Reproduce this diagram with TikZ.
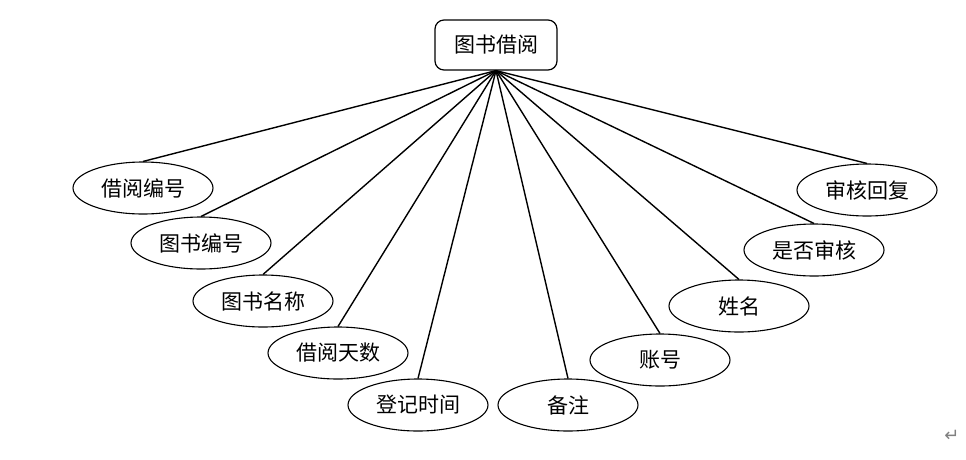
\documentclass[tikz,border=0pt]{standalone}
\usepackage{fontspec}
\newfontfamily\cjk{Noto Sans CJK SC}
\newfontfamily\symfont{DejaVu Sans}
\usetikzlibrary{shapes.geometric}
\begin{document}
\begin{tikzpicture}[x=1pt,y=-1pt,
  entity/.style={draw,rounded corners=9pt,line width=1.2pt,minimum width=122pt,minimum height=50pt,inner sep=0pt,font=\cjk\fontsize{21}{25}\selectfont},
  attr/.style={draw,ellipse,line width=1.1pt,minimum width=140pt,minimum height=52pt,inner sep=0pt,font=\cjk\fontsize{21}{25}\selectfont},
  link/.style={line width=1.4pt}]
\useasboundingbox (0,0) rectangle (966,459);
\node[entity] (jy) at (496,45) {图书借阅};
\node[attr] (a1) at (143,188) {借阅编号};
\node[attr] (a2) at (201,243) {图书编号};
\node[attr] (a3) at (263,301) {图书名称};
\node[attr] (a4) at (338,353) {借阅天数};
\node[attr] (a5) at (418,405) {登记时间};
\node[attr] (a6) at (568,405) {备注};
\node[attr] (a7) at (660,360) {账号};
\node[attr] (a8) at (739,306) {姓名};
\node[attr] (a9) at (814,250) {是否审核};
\node[attr] (a10) at (867,190) {审核回复};
\foreach \i in {1,...,10}
  \draw[link] (jy.south) -- (a\i.north);
\node[text=gray,font=\symfont\fontsize{18}{18}\selectfont] (ret) at (952,436) {↵};
\end{tikzpicture}
\end{document}
